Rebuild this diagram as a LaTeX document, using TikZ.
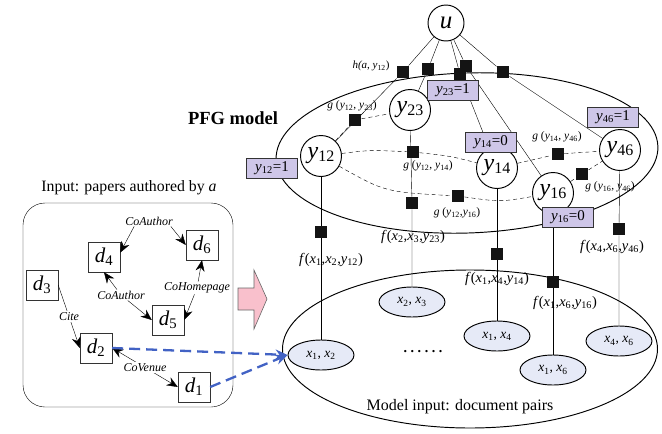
\documentclass[tikz,border=0pt]{standalone}
\usepackage{fontspec}
\setmainfont{Liberation Serif}
\usetikzlibrary{arrows.meta,shapes.geometric}
\pgfdeclarelayer{bg}
\pgfsetlayers{bg,main}
\definecolor{boxpurple}{RGB}{206,198,232}
\definecolor{ellblue}{RGB}{230,234,247}
\definecolor{arrblue}{RGB}{66,98,196}
\definecolor{pinkfill}{RGB}{249,192,204}
\newcommand\ycirc[1]{{\fontsize{24}{24}\selectfont\textit{y}}{\fontsize{16}{16}\selectfont\raisebox{-3pt}{#1}}}
\newcommand\yv[1]{\textit{y}\textsubscript{#1}}
\newcommand\xv[1]{\textit{x}\textsubscript{#1}}
\newcommand\dv[1]{\textit{d}\textsubscript{#1}}
\begin{document}
\begin{tikzpicture}[x=1pt,y=1pt,line width=0.95pt,
  ynode/.style={circle,draw,fill=white,minimum size=41pt,inner sep=0pt},
  valbox/.style={draw=black!80,fill=boxpurple,minimum width=51pt,minimum height=20pt,inner sep=0pt,font=\fontsize{15}{15}\selectfont},
  fac/.style={fill=black!92,minimum size=12pt,inner sep=0pt},
  xell/.style={ellipse,draw,fill=ellblue,minimum width=66pt,minimum height=30pt,inner sep=0pt,font=\fontsize{13.5}{13.5}\selectfont},
  dbox/.style={draw=black!80,fill=white,minimum width=32pt,minimum height=30pt,inner sep=0pt,font=\fontsize{21}{21}\selectfont},
  elbl/.style={fill=white,inner sep=1pt,font=\itshape\fontsize{12}{12}\selectfont},
  glbl/.style={inner sep=1pt,font=\fontsize{11.5}{11.5}\selectfont},
  flbl/.style={inner sep=1pt,font=\fontsize{14.5}{14.5}\selectfont},
  darr/.style={-{Stealth[length=11pt,width=9pt]}},
  barr/.style={draw=arrblue,line width=2.3pt,dash pattern=on 11pt off 6pt,-{Stealth[length=12pt,width=10pt]}},
  gdash/.style={dash pattern=on 4pt off 3pt}
]
\useasboundingbox (0,0) rectangle (662,-434);

% ---------- right part: PFG model ----------
\node[ellipse,draw,minimum width=382pt,minimum height=160pt,rotate=2] (pfg) at (467,-153) {};
\node[ellipse,draw,minimum width=375pt,minimum height=158pt] (inp) at (470,-349) {};
\node[font=\bfseries\fontsize{18.5}{18.5}\selectfont] (pfgt) at (233,-118) {PFG model};
\node[font=\fontsize{16}{16}\selectfont] (inpt) at (460,-407) {Model input: document pairs};
\node[font=\bfseries\fontsize{14}{14}\selectfont] (dots) at (423,-352) {.\hspace{3.6pt}.\hspace{3.6pt}.\hspace{3.6pt}.\hspace{3.6pt}.\hspace{3.6pt}.};

\node[circle,draw,fill=white,minimum size=36pt,inner sep=0pt,font=\fontsize{25}{25}\selectfont] (u) at (446,-23) {\textit{u}};

\node[ynode] (y12) at (321,-156) {\ycirc{12}};
\node[ynode] (y23) at (410,-110) {\ycirc{23}};
\node[ynode] (y14) at (497,-168) {\ycirc{14}};
\node[ynode] (y16) at (553,-193) {\ycirc{16}};
\node[ynode] (y46) at (620,-150) {\ycirc{46}};

\node[valbox] (v12) at (272,-168) {\yv{12}=1};
\node[valbox] (v23) at (453,-90) {\yv{23}=1};
\node[valbox] (v14) at (491,-142) {\yv{14}=0};
\node[valbox] (v46) at (613,-117) {\yv{46}=1};
\node[valbox] (v16) at (568,-217) {\yv{16}=0};

\node[xell] (x12) at (321,-355) {\xv{1}, \xv{2}};
\node[xell] (x23) at (412,-302) {\xv{2}, \xv{3}};
\node[xell] (x14) at (497,-336) {\xv{1}, \xv{4}};
\node[xell] (x16) at (553,-370) {\xv{1}, \xv{6}};
\node[xell] (x46) at (619,-341) {\xv{4}, \xv{6}};

% factor squares
\node[fac] (h1) at (403,-72) {};
\node[fac] (h2) at (428,-69) {};
\node[fac] (h3) at (460,-74) {};
\node[fac] (h4) at (466,-66) {};
\node[fac] (h5) at (503,-72) {};
\node[fac] (g1223) at (355,-120) {};
\node[fac] (g1214) at (413,-152) {};
\node[fac] (g1216) at (458,-196) {};
\node[fac] (g1446) at (558,-154) {};
\node[fac] (g1646) at (582,-174) {};
\node[fac] (f12) at (321,-232) {};
\node[fac] (f23) at (412,-203) {};
\node[fac] (f14) at (497,-254) {};
\node[fac] (f16) at (553,-282) {};
\node[fac] (f46) at (619,-229) {};

% labels
\node[glbl,font=\fontsize{11}{11}\selectfont] (lh) at (371,-66) {\textit{h(a}, \yv{12})};
\node[glbl] (lg1223) at (352,-106) {\textit{g} (\yv{12}, \yv{23})};
\node[glbl] (lg1214) at (428,-166) {\textit{g} (\yv{12}, \yv{14})};
\node[glbl] (lg1216) at (457,-213) {\textit{g} (\yv{12},\yv{16})};
\node[glbl] (lg1446) at (557,-137) {\textit{g} (\yv{14}, \yv{46})};
\node[glbl] (lg1646) at (610,-187) {\textit{g} (\yv{16}, \yv{46})};
\node[flbl] (lf12) at (331,-260) {\textit{f}(\xv{1},\xv{2},\yv{12})};
\node[flbl] (lf23) at (413,-237) {\textit{f}(\xv{2},\xv{3},\yv{23})};
\node[flbl] (lf14) at (497,-279) {\textit{f}(\xv{1},\xv{4},\yv{14})};
\node[flbl] (lf16) at (565,-303) {\textit{f}(\xv{1},\xv{6},\yv{16})};
\node[flbl] (lf46) at (612,-247) {\textit{f}(\xv{4},\xv{6},\yv{46})};

\begin{pgfonlayer}{bg}
  \foreach \h in {h1,h2,h3,h4,h5} \draw (u) -- (\h);
  \draw (h1) -- (y12);
  \draw (h2) -- (y23);
  \draw (h3) -- (y14);
  \draw (h4) -- (y16);
  \draw (y12) -- (f12) -- (x12);
  \draw (y23) -- (f23) -- (x23);
  \draw (y14) -- (f14) -- (x14);
  \draw (y16) -- (f16) -- (x16);
  \draw (y46) -- (f46) -- (x46);
  \draw[gdash] (y12) -- (g1223) -- (y23);
  \draw[gdash] (y12) .. controls (370,-150) .. (g1214) .. controls (450,-156) .. (y14);
  \draw[gdash] (y12) .. controls (385,-192) .. (g1216) .. controls (500,-202) .. (y16);
  \draw[gdash] (y14) -- (g1446) -- (y46);
  \draw[gdash] (y16) -- (g1646) -- (y46);
\end{pgfonlayer}
\draw (h5) -- (y46);

% ---------- left part ----------
\node[font=\fontsize{15.8}{15.8}\selectfont] (ttl) at (129,-188) {Input: papers authored by \textit{a}};
\node[draw,rounded corners=22pt,minimum width=210pt,minimum height=204pt] (panel) at (128,-305) {};

\node[dbox] (d4) at (104,-257) {\dv{4}};
\node[dbox] (d6) at (202,-245) {\dv{6}};
\node[dbox] (d3) at (42,-285) {\dv{3}};
\node[dbox] (d5) at (168,-320) {\dv{5}};
\node[dbox] (d2) at (96,-348) {\dv{2}};
\node[dbox] (d1) at (194,-387) {\dv{1}};

\node[elbl] (la1) at (149,-221) {CoAuthor};
\node[elbl] (la2) at (121,-295) {CoAuthor};
\node[elbl] (lhp) at (197,-288) {CoHomepage};

\draw[darr] ([xshift=10pt]la1.south west) -- (d4.15);
\draw[darr] ([xshift=-3pt]la1.south east) -- (d6.west);
\draw[darr] (la2) -- (d4.south);
\draw[darr] (la2) -- (d5.west);
\draw[darr] (lhp) -- (d6.south);
\draw[darr] (lhp) -- (d5.east);
\draw[darr] (d3.east) -- node[elbl] (lcite) {Cite} (d2.west);
\draw[{Stealth[length=11pt,width=9pt]}-{Stealth[length=11pt,width=9pt]}] (d2.east) -- node[elbl] (lven) {CoVenue} (d1.west);

% pink block arrow
\draw[draw=black!60,fill=pinkfill,line width=0.6pt] (238,-288) -- (254,-288) -- (254,-270) -- (267,-299) -- (254,-329) -- (254,-310) -- (238,-310) -- cycle;

% blue dashed arrows
\draw[barr] (d2.east) -- (x12.west);
\draw[barr] (d1.east) -- (x12.west);
\end{tikzpicture}
\end{document}
